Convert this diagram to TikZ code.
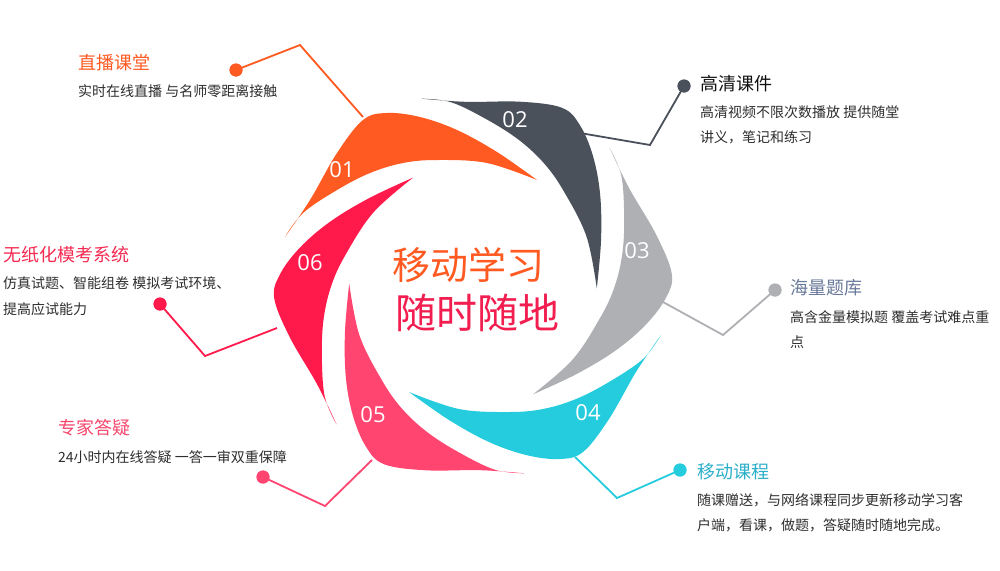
\documentclass[tikz,border=0pt]{standalone}
\usepackage{fontspec}
\setmainfont{Noto Sans CJK SC}
\newfontfamily\numfont{Open Sans}
\definecolor{c01}{HTML}{FF5A22}
\definecolor{c02}{HTML}{4A515B}
\definecolor{c03}{HTML}{AEB0B4}
\definecolor{c04}{HTML}{25CCDE}
\definecolor{c05}{HTML}{FF4570}
\definecolor{c06}{HTML}{FF1A4B}
\definecolor{t02}{HTML}{111111}
\definecolor{t03}{HTML}{6A7A9A}
\definecolor{t04}{HTML}{2BAFC9}
\definecolor{t05}{HTML}{F5476D}
\definecolor{t06}{HTML}{F52A52}
\definecolor{desccol}{HTML}{2E2E2E}
\definecolor{cen2}{HTML}{F21E50}
\tikzset{
  conn/.style={line width=1.8pt},
  dotn/.style={circle, inner sep=0pt, minimum size=13pt},
  ttl/.style={anchor=base west, inner sep=0pt, font=\fontsize{18}{20}\selectfont},
  desc/.style={anchor=base west, inner sep=0pt, font=\fontsize{14}{16}\selectfont, text=desccol},
  num/.style={text=white, inner sep=0pt, font=\numfont\fontsize{22}{24}\selectfont},
}
\begin{document}
\begin{tikzpicture}[x=1pt,y=-1pt]
\useasboundingbox (0,0) rectangle (1000,570);
\fill[white] (0,0) rectangle (1000,570);

% connectors (under blades)
\coordinate (b1) at (300,45);  \coordinate (e1) at (363,117);
\coordinate (b2) at (650,145); \coordinate (e2) at (580,133);
\coordinate (b3) at (723,335); \coordinate (e3) at (663,302);
\coordinate (b4) at (617,498); \coordinate (e4) at (575,457);
\coordinate (b5) at (325,506); \coordinate (e5) at (372,460);
\coordinate (b6) at (205,356); \coordinate (e6) at (277,328);
\node[dotn, fill=c01] (d1) at (236,70) {};
\node[dotn, fill=c02] (d2) at (684,86) {};
\node[dotn, fill=c03] (d3) at (775,290) {};
\node[dotn, fill=c04] (d4) at (680,470) {};
\node[dotn, fill=c05] (d5) at (263,477) {};
\node[dotn, fill=c06] (d6) at (160,304) {};
\draw[conn, c01] (d1.center) -- (b1) -- (e1);
\draw[conn, c02] (d2.center) -- (b2) -- (e2);
\draw[conn, c03] (d3.center) -- (b3) -- (e3);
\draw[conn, c04] (d4.center) -- (b4) -- (e4);
\draw[conn, c05] (d5.center) -- (b5) -- (e5);
\draw[conn, c06] (d6.center) -- (b6) -- (e6);
\node[dotn, fill=c01] at (d1) {};
\node[dotn, fill=c02] at (d2) {};
\node[dotn, fill=c03] at (d3) {};
\node[dotn, fill=c04] at (d4) {};
\node[dotn, fill=c05] at (d5) {};
\node[dotn, fill=c06] at (d6) {};

% blades
\foreach \k/\col in {0/c01,1/c02,2/c03,3/c04,4/c05,5/c06}{
  \fill[\col, shift={(473,286)}, rotate=-60*\k]
    plot[smooth, tension=0.6] coordinates {(-188,-49) (-163,-86) (-136,-133) (-110,-166) (-86,-173) (-53,-169) (-16,-156) (24,-134) (64,-106)}
    -- plot[smooth, tension=0.6] coordinates {(64,-106) (14,-123) (-36,-126) (-70,-123) (-103,-113) (-136,-96) (-170,-73) (-188,-49)}
    -- cycle;
}

% numbers
\node[num] (n1) at (342,170) {01};
\node[num] (n2) at (515,120) {02};
\node[num] (n3) at (637,251) {03};
\node[num] (n4) at (588,413) {04};
\node[num] (n5) at (373,415) {05};
\node[num] (n6) at (310,263) {06};

% centre text
\node[text=c01, font=\fontsize{38}{40}\selectfont] (cen1) at (468,265) {移动学习};
\node[text=cen2, font=\fontsize{41}{43}\selectfont] (cen2) at (477,313) {随时随地};

% labels
\node[ttl, text=c01] (l1) at (78,69) {直播课堂};
\node[desc] (l1a) at (78,96) {实时在线直播 与名师零距离接触};

\node[ttl, text=t02] (l2) at (700,90) {高清课件};
\node[desc] (l2a) at (700,117) {高清视频不限次数播放 提供随堂};
\node[desc] (l2b) at (700,142) {讲义，笔记和练习};

\node[ttl, text=t03] (l3) at (790,294) {海量题库};
\node[desc] (l3a) at (790,322) {高含金量模拟题 覆盖考试难点重};
\node[desc] (l3b) at (790,347) {点};

\node[ttl, text=t04] (l4) at (697,478) {移动课程};
\node[desc] (l4a) at (697,505) {随课赠送，与网络课程同步更新移动学习客};
\node[desc] (l4b) at (697,530) {户端，看课，做题，答疑随时随地完成。};

\node[ttl, text=t05] (l5) at (58,434) {专家答疑};
\node[desc] (l5a) at (58,462) {24小时内在线答疑 一答一审双重保障};

\node[ttl, text=t06] (l6) at (3,261) {无纸化模考系统};
\node[desc] (l6a) at (3,288) {仿真试题、智能组卷 模拟考试环境、};
\node[desc] (l6b) at (3,314) {提高应试能力};
\end{tikzpicture}
\end{document}
